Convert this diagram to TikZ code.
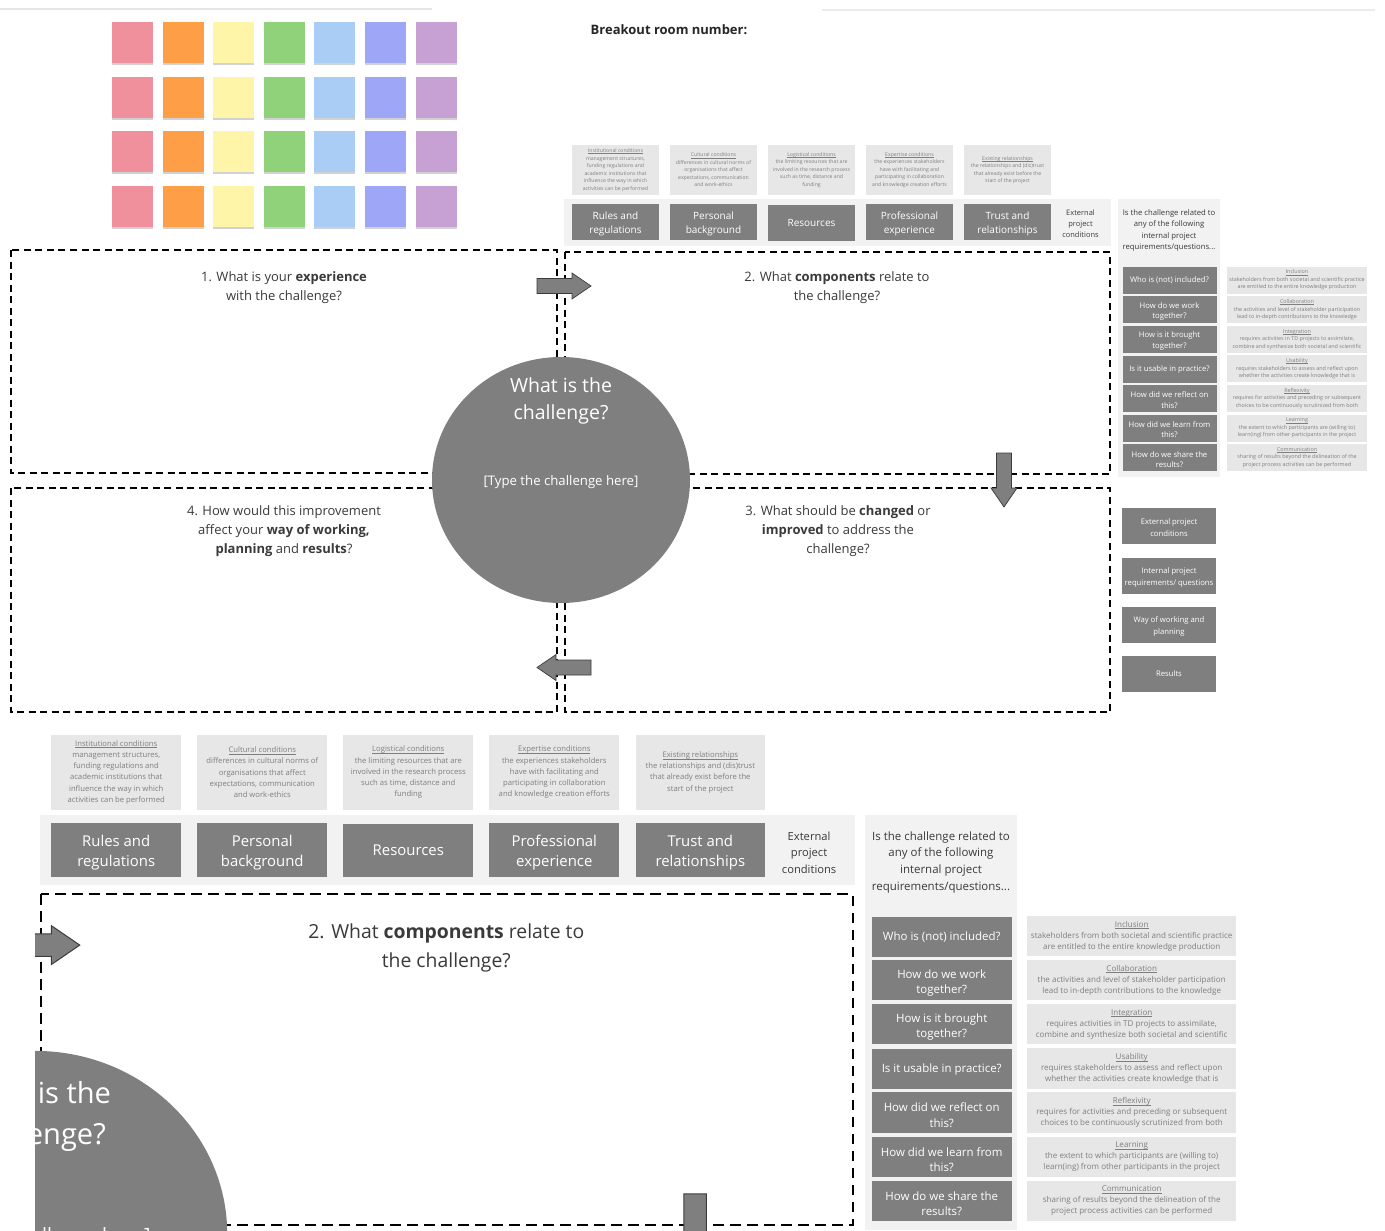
\documentclass[tikz,border=0pt]{standalone}
\usepackage{fontspec}
\setmainfont{Open Sans}
\usetikzlibrary{shapes.geometric,shadows}

\definecolor{boxgray}{HTML}{7F7F7F}
\definecolor{descgray}{HTML}{E7E7E7}
\definecolor{panelbg}{HTML}{F2F2F2}
\definecolor{desctext}{HTML}{7E7E7E}
\definecolor{qtext}{HTML}{3A3A3A}
\definecolor{arrowline}{HTML}{3C3C3C}
\definecolor{notepink}{HTML}{F0909D}
\definecolor{noteorange}{HTML}{FE9F48}
\definecolor{noteyellow}{HTML}{FEF5A8}
\definecolor{notegreen}{HTML}{8FD27A}
\definecolor{noteblue}{HTML}{A9CDF5}
\definecolor{noteviolet}{HTML}{9EA6F7}
\definecolor{notepurple}{HTML}{C7A1D3}

% underlined heading in the small boxes
\newsavebox\headbox
\newcommand\ulhead[1]{\sbox\headbox{#1}\rlap{\rule[-1.1pt]{\wd\headbox}{0.35pt}}\usebox\headbox}

% block arrow, tip at the origin, pointing right
\newcommand\arrowpath{(-54,-7.5) -- (-19,-7.5) -- (-19,-13) -- (0,0) -- (-19,13) -- (-19,7.5) -- (-54,7.5) -- cycle}

% the part of the board that is shown twice (once enlarged)
\newcommand\drawpanel{%
  % strip and column behind the boxes
  \fill[panelbg] (564,199) rectangle (1111,246);
  \fill[panelbg] (1118,199) rectangle (1220,477);
  % external project conditions
  \node[infobox] (inst) at (615.5,170) {\ulhead{Institutional conditions}\\management structures,\\funding regulations and\\academic institutions that\\influence the way in which\\activities can be performed};
  \node[infobox] (cult) at (713.5,170) {\ulhead{Cultural conditions}\\differences in cultural norms of\\organisations that affect\\expectations, communication\\and work-ethics};
  \node[infobox] (logi) at (811.5,170) {\ulhead{Logistical conditions}\\the limiting resources that are\\involved in the research process\\such as time, distance and\\funding};
  \node[infobox] (expe) at (909.5,170) {\ulhead{Expertise conditions}\\the experiences stakeholders\\have with facilitating and\\participating in collaboration\\and knowledge creation efforts};
  \node[infobox] (exis) at (1007.5,170) {\ulhead{Existing relationships}\\the relationships and (dis)trust\\that already exist before the\\start of the project};
  \node[compbox, twoline=13.9pt] (rules) at (615.5,222) {Rules and\\regulations};
  \node[compbox, twoline=13.9pt] (personal) at (713.5,222) {Personal\\background};
  \node[compbox] (resources) at (811.5,222.5) {Resources};
  \node[compbox, twoline=13.9pt] (profexp) at (909.5,222) {Professional\\experience};
  \node[compbox, twoline=13.9pt] (trust) at (1007.5,222) {Trust and\\relationships};
  \node[sidelabel] (ext) at (1080.5,224) {External\\project\\conditions};
  % internal project requirements
  \node[sidelabel, font=\fontsize{7.7}{11.3}\selectfont] (intq) at (1169,230.5) {Is the challenge related to\\any of the following\\internal project\\requirements/questions...};
  \node[askbox] (who) at (1169.5,280.5) {Who is (not) included?};
  \node[askbox, twoline=10.4pt] (work) at (1169.5,309.6) {How do we work\\together?};
  \node[askbox, twoline=10.4pt] (brought) at (1169.5,339.2) {How is it brought\\together?};
  \node[askbox] (usable) at (1169.5,369.3) {Is it usable in practice?};
  \node[askbox, twoline=10.4pt] (reflect) at (1169.5,398.4) {How did we reflect on\\this?};
  \node[askbox, twoline=10.4pt] (learn) at (1169.5,428) {How did we learn from\\this?};
  \node[askbox, twoline=10.4pt] (share) at (1169.5,457.6) {How do we share the\\results?};
  \node[notebox] (incl) at (1297,280) {\ulhead{Inclusion}\\stakeholders from both societal and scientific practice\\are entitled to the entire knowledge production};
  \node[notebox] (colla) at (1297,309.6) {\ulhead{Collaboration}\\the activities and level of stakeholder participation\\lead to in-depth contributions to the knowledge};
  \node[notebox] (integ) at (1297,339.2) {\ulhead{Integration}\\requires activities in TD projects to assimilate,\\combine and synthesize both societal and scientific};
  \node[notebox] (usab) at (1297,368.8) {\ulhead{Usability}\\requires stakeholders to assess and reflect upon\\whether the activities create knowledge that is};
  \node[notebox] (refl) at (1297,398.4) {\ulhead{Reflexivity}\\requires for activities and preceding or subsequent\\choices to be continuously scrutinized from both};
  \node[notebox] (learning) at (1297,428) {\ulhead{Learning}\\the extent to which participants are (willing to)\\learn(ing) from other participants in the project};
  \node[notebox] (comm) at (1297,457.6) {\ulhead{Communication}\\sharing of results beyond the delineation of the\\project process activities can be performed};
  % quadrant 2 and the challenge
  \draw[quadrant] (565,252) rectangle (1110,474);
  \node[asktext] (q2) at (837,288) {2. What \textbf{components} relate to\\the challenge?};
  \node[challenge] (chal) at (561,480) {};
  \node[font=\fontsize{19.5}{27.5}\selectfont, text=white, align=center] (chaltitle) at (561,401) {What is the\\challenge?};
  \node[font=\fontsize{13.2}{15}\selectfont, text=white] (chalhint) at (561,482) {[Type the challenge here]};
  \draw[barrow, shift={(591,286)}] \arrowpath;
  \draw[barrow, shift={(1004,507)}, rotate=-90] \arrowpath;
}

\begin{document}
\begin{tikzpicture}[x=1pt, y=-1pt,
    stickynote/.style={
      rectangle,
      inner sep=0,
      minimum width=41,
      minimum height=41,
      drop shadow={shadow xshift=0pt, shadow yshift=-1.8pt, opacity=0.35}
    },
    twoline/.style={
      execute at begin node={\rule{0pt}{\dimexpr0.73em+#1+4pt\relax}}
    },
    infobox/.style={
      rectangle,
      fill=descgray,
      text=desctext,
      inner sep=0,
      minimum width=87,
      minimum height=50,
      align=center,
      font=\fontsize{5.15}{7.5}\selectfont
    },
    compbox/.style={
      rectangle,
      fill=boxgray,
      text=white,
      inner sep=0,
      minimum width=87,
      minimum height=36,
      align=center,
      font=\fontsize{10}{13.9}\selectfont
    },
    askbox/.style={
      rectangle,
      fill=boxgray,
      text=white,
      inner sep=0,
      minimum width=94,
      minimum height=27,
      align=center,
      font=\fontsize{7.7}{10.4}\selectfont
    },
    notebox/.style={
      rectangle,
      fill=descgray,
      text=desctext,
      inner sep=0,
      minimum width=140,
      minimum height=27,
      align=center,
      font=\fontsize{5.4}{7.5}\selectfont
    },
    legendbox/.style={
      rectangle,
      fill=boxgray,
      text=white,
      inner sep=0,
      minimum width=94,
      minimum height=36,
      align=center,
      font=\fontsize{7.7}{12}\selectfont
    },
    sidelabel/.style={
      text=qtext,
      inner sep=0,
      align=center,
      font=\fontsize{7.5}{11}\selectfont
    },
    asktext/.style={
      text=qtext,
      align=center,
      font=\fontsize{13}{19}\selectfont
    },
    quadrant/.style={
      draw=black,
      line width=1.3pt,
      dash pattern=on 7pt off 4.5pt
    },
    challenge/.style={
      ellipse,
      fill=boxgray,
      minimum width=258,
      minimum height=246
    },
    barrow/.style={
      fill=boxgray,
      draw=arrowline,
      line width=0.7pt,
      line join=miter
    }
  ]
  \useasboundingbox (0,0) rectangle (1385,1231);
  \fill[white] (0,0) rectangle (1385,1231);

  % faint edges at the top
  \draw[black!10, line width=2pt] (0,9) -- (432,9);
  \draw[black!8, line width=2pt] (822,10) -- (1375,10);

  % sticky notes
  \foreach \c [count=\i from 0] in {notepink,noteorange,noteyellow,notegreen,noteblue,noteviolet,notepurple}
    \foreach \j in {0,...,3}
      \node[stickynote, fill=\c] (note-\i-\j) at (132.5+50.6*\i,42.5+54.7*\j) {};

  \node[font=\fontsize{13}{15}\selectfont\bfseries, text=black!85] (breakout) at (669,30) {Breakout room number:};

  % quadrants 1, 3 and 4
  \draw[quadrant] (11,250) rectangle (557,473);
  \draw[quadrant] (11,488) rectangle (557,712);
  \draw[quadrant] (565,488) rectangle (1110,712);
  \node[asktext] (q1) at (284,288) {1. What is your \textbf{experience}\\with the challenge?};
  \node[asktext] (q3) at (838,531.5) {3. What should be \textbf{changed} or\\\textbf{improved} to address the\\challenge?};
  \node[asktext] (q4) at (284,531.5) {4. How would this improvement\\affect your \textbf{way of working,}\\\textbf{planning} and \textbf{results}?};
  \draw[barrow, shift={(537,667.5)}, rotate=180] \arrowpath;

  % legend
  \node[legendbox, twoline=12pt] (legext) at (1169,526) {External project\\conditions};
  \node[legendbox, twoline=12pt] (legint) at (1169,576) {Internal project\\requirements/ questions};
  \node[legendbox, twoline=12pt] (legwork) at (1169,624.5) {Way of working and\\planning};
  \node[legendbox] (legres) at (1169,674) {Results};

  \drawpanel

  % enlarged view of the components
  \begin{scope}
    \clip (35,727) rectangle (1385,1231);
    \begin{scope}[shift={(-800.85,518.95)}, scale=1.49, transform shape, name prefix=z-,
        quadrant/.append style={line width=2pt, dash pattern=on 10.5pt off 6.5pt},
        barrow/.append style={line width=1pt}]
      \drawpanel
    \end{scope}
  \end{scope}
\end{tikzpicture}
\end{document}
